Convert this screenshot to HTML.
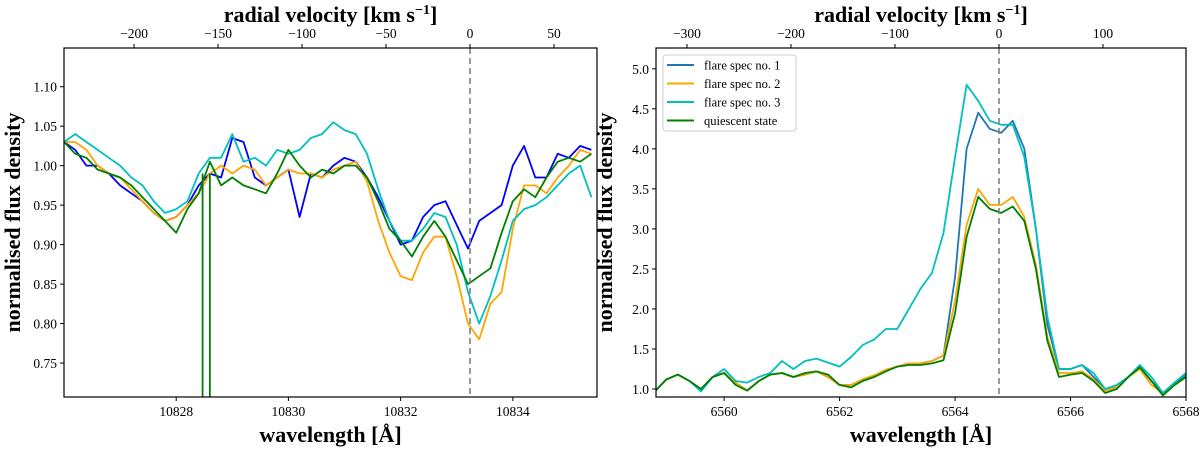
<!DOCTYPE html>
<html><head><meta charset="utf-8"><style>
html,body{margin:0;padding:0;background:#fff;}
svg{display:block;font-family:"Liberation Serif",serif;}
</style></head><body>
<svg id="fig" width="1200" height="452" viewBox="0 0 1200 452" xmlns="http://www.w3.org/2000/svg"></svg>
<script>
// ---- left panel data (He I 10830) ----
const wlL = [10826.0,10826.2,10826.4,10826.6,10826.8,10827.0,10827.2,10827.4,10827.6,10827.8,10828.0,10828.2,10828.4,10828.6,10828.8,10829.0,10829.2,10829.4,10829.6,10829.8,10830.0,10830.2,10830.4,10830.6,10830.8,10831.0,10831.2,10831.4,10831.6,10831.8,10832.0,10832.2,10832.4,10832.6,10832.8,10833.0,10833.2,10833.4,10833.6,10833.8,10834.0,10834.2,10834.4,10834.6,10834.8,10835.0,10835.2,10835.4];
const leftBlue = [1.03,1.02,1.00,1.00,0.99,0.975,0.965,0.955,0.94,0.93,0.935,0.95,0.975,0.99,0.985,1.035,1.03,0.985,0.975,0.985,0.995,0.935,0.99,0.985,1.00,1.01,1.005,0.985,0.96,0.93,0.90,0.905,0.935,0.95,0.955,0.925,0.895,0.93,0.94,0.95,1.00,1.025,0.985,0.985,1.015,1.01,1.025,1.02];
const leftOrange = [1.03,1.03,1.02,1.00,0.99,0.985,0.97,0.955,0.94,0.93,0.935,0.95,0.965,0.99,1.00,0.99,1.00,0.995,0.975,0.985,0.995,0.99,0.99,0.985,0.995,1.00,1.005,0.98,0.93,0.89,0.86,0.855,0.89,0.91,0.91,0.86,0.80,0.78,0.825,0.84,0.92,0.975,0.975,0.965,0.985,1.00,1.02,1.015];
const leftCyan = [1.03,1.04,1.03,1.02,1.01,1.00,0.985,0.975,0.955,0.94,0.945,0.955,0.99,1.01,1.01,1.04,1.005,1.01,1.00,1.02,1.015,1.02,1.035,1.04,1.055,1.045,1.04,1.015,0.97,0.93,0.905,0.905,0.92,0.94,0.935,0.90,0.84,0.80,0.835,0.88,0.93,0.945,0.95,0.96,0.975,0.99,1.00,0.96];
const leftGreen = [1.03,1.015,1.01,0.995,0.99,0.985,0.975,0.96,0.945,0.93,0.915,0.945,0.965,1.005,0.975,0.985,0.975,0.97,0.965,0.99,1.02,1.00,0.985,0.995,0.99,1.00,1.00,0.985,0.955,0.92,0.905,0.885,0.91,0.93,0.91,0.88,0.85,0.86,0.87,0.915,0.955,0.97,0.96,0.985,1.005,1.01,1.005,1.015];
const greenSpikeWl = [10828.47,10828.6];
const leftYTicks = [0.75,0.80,0.85,0.90,0.95,1.00,1.05,1.10];
const leftXTicks = [10828,10830,10832,10834];
const leftVTicks = [-200,-150,-100,-50,0,50];
// ---- right panel data (H alpha) ----
const wlR = [6558.8,6559.0,6559.2,6559.4,6559.6,6559.8,6560.0,6560.2,6560.4,6560.6,6560.8,6561.0,6561.2,6561.4,6561.6,6561.8,6562.0,6562.2,6562.4,6562.6,6562.8,6563.0,6563.2,6563.4,6563.6,6563.8,6564.0,6564.2,6564.4,6564.6,6564.8,6565.0,6565.2,6565.4,6565.6,6565.8,6566.0,6566.2,6566.4,6566.6,6566.8,6567.0,6567.2,6567.4,6567.6,6567.8,6568.0];
const flare1 = [0.97,1.12,1.18,1.10,1.00,1.15,1.20,1.08,0.98,1.10,1.18,1.20,1.15,1.18,1.22,1.15,1.05,1.05,1.12,1.17,1.24,1.28,1.32,1.32,1.35,1.42,2.40,4.00,4.45,4.25,4.20,4.35,4.00,3.00,1.80,1.25,1.25,1.30,1.15,1.00,1.02,1.15,1.28,1.10,0.95,1.05,1.18];
const flare2 = [0.97,1.12,1.18,1.10,1.00,1.15,1.20,1.08,0.98,1.10,1.18,1.20,1.15,1.18,1.22,1.15,1.05,1.05,1.12,1.17,1.24,1.28,1.32,1.32,1.35,1.42,2.10,3.05,3.50,3.30,3.30,3.40,3.15,2.55,1.65,1.20,1.20,1.22,1.12,0.98,1.02,1.15,1.25,1.05,0.95,1.05,1.15];
const flare3 = [0.97,1.12,1.18,1.10,0.97,1.15,1.25,1.10,1.08,1.15,1.20,1.35,1.25,1.35,1.38,1.33,1.28,1.40,1.55,1.62,1.75,1.75,2.00,2.25,2.45,2.95,3.90,4.80,4.60,4.35,4.30,4.30,3.90,3.00,1.90,1.25,1.25,1.30,1.20,1.00,1.05,1.15,1.30,1.15,0.95,1.08,1.20];
const quiescent = [0.97,1.12,1.18,1.10,1.00,1.15,1.20,1.05,0.98,1.10,1.18,1.20,1.15,1.20,1.22,1.18,1.05,1.02,1.10,1.15,1.22,1.28,1.30,1.30,1.32,1.36,1.95,2.90,3.40,3.25,3.20,3.28,3.10,2.50,1.60,1.15,1.18,1.20,1.10,0.95,1.00,1.15,1.27,1.10,0.92,1.05,1.15];
const rightYTicks = [1.0,1.5,2.0,2.5,3.0,3.5,4.0,4.5,5.0];
const rightXTicks = [6560,6562,6564,6566,6568];
const rightVTicks = [-300,-200,-100,0,100];
const legendLabels = ["flare spec no. 1","flare spec no. 2","flare spec no. 3","quiescent state"];

const NS="http://www.w3.org/2000/svg";
const svg=document.getElementById('fig');
function mk(tag,attrs,parent){const e=document.createElementNS(NS,tag);for(const k in attrs)e.setAttribute(k,attrs[k]);(parent||svg).appendChild(e);return e;}

function panel(o){
  const g=mk('g',{});
  
  
  const xs=v=>o.x0+(v-o.xmin)/(o.xmax-o.xmin)*(o.x1-o.x0);
  const ys=v=>o.y1-(v-o.ymin)/(o.ymax-o.ymin)*(o.y1-o.y0);
  const vs=v=>o.x0+(v-o.vmin)/(o.vmax-o.vmin)*(o.x1-o.x0);
  const clip='clip-'+o.name;
  const cp=mk('clipPath',{id:clip},g);mk('rect',{x:o.x0,y:o.y0,width:o.x1-o.x0,height:o.y1-o.y0},cp);
  const pg=mk('g',{'clip-path':'url(#'+clip+')'},g);
  o.series.forEach(s=>{
    const d=s.vals.map((v,i)=>(i?'L':'M')+xs(o.wl[i]).toFixed(1)+','+ys(v).toFixed(1)).join('');
    const p=mk('path',{d:d,fill:'none',stroke:s.color,'stroke-width':1.8,'stroke-linejoin':'round'},pg);
    
    
  });
  if(o.spikes){o.spikes.forEach(w=>{
    const l=mk('line',{x1:xs(w),x2:xs(w),y1:ys(0.99),y2:o.y1+2,stroke:'#008000','stroke-width':1.8},pg);
    
    
  });}
  const dl=mk('line',{x1:vs(0),x2:vs(0),y1:o.y0,y2:o.y1,stroke:'#808080','stroke-width':1.6,'stroke-dasharray':'6,4'},g);
  
  
  const fr=mk('rect',{x:o.x0,y:o.y0,width:o.x1-o.x0,height:o.y1-o.y0,fill:'none',stroke:'#000','stroke-width':1.2},g);
  
  
  o.yt.forEach(t=>{const y=ys(t);mk('line',{x1:o.x0-4,x2:o.x0,y1:y,y2:y,stroke:'#000'},g);
    const tx=mk('text',{x:o.x0-7,y:y+5,'text-anchor':'end','font-size':13.5},g);tx.textContent=t.toFixed(o.ydec);
    
    });
  o.xt.forEach(t=>{const x=xs(t);mk('line',{x1:x,x2:x,y1:o.y1,y2:o.y1+4,stroke:'#000'},g);
    const tx=mk('text',{x:x,y:o.y1+19,'text-anchor':'middle','font-size':13.5},g);tx.textContent=t;
    
    });
  o.vt.forEach(t=>{const x=vs(t);mk('line',{x1:x,x2:x,y1:o.y0-4,y2:o.y0,stroke:'#000'},g);
    const tx=mk('text',{x:x,y:o.y0-10,'text-anchor':'middle','font-size':13.5},g);tx.textContent=(t<0?'\u2212'+(-t):t);
    
    });
  const cx=(o.x0+o.x1)/2;
  const xl=mk('text',{x:cx,y:442,'text-anchor':'middle','font-size':22,'font-weight':'bold'},g);xl.textContent='wavelength [Å]';
  
  
  const tl=mk('text',{x:cx,y:22,'text-anchor':'middle','font-size':22,'font-weight':'bold'},g);
  tl.innerHTML='radial velocity [km s<tspan dy="-8" font-size="14">−1</tspan><tspan dy="8">]</tspan>';
  
  
  const yl=mk('text',{x:0,y:0,'text-anchor':'middle','font-size':22,'font-weight':'bold',transform:'translate('+o.ylx+','+((o.y0+o.y1)/2)+') rotate(-90)'},g);yl.textContent='normalised flux density';
  
  
  return {xs,ys};
}

panel({name:'helium-panel',x0:64,x1:597,y0:48,y1:397,xmin:10826.0,xmax:10835.5,ymin:0.707,ymax:1.149,vmin:-241.7,vmax:75.6,ydec:2,ylx:20,
  wl:wlL,yt:leftYTicks,xt:leftXTicks,vt:leftVTicks,spikes:greenSpikeWl,
  series:[{name:'left-blue-series',vals:leftBlue,color:'#0000ff'},{name:'left-orange-series',vals:leftOrange,color:'#ffa500'},
          {name:'left-cyan-series',vals:leftCyan,color:'#00bfbf'},{name:'left-green-series',vals:leftGreen,color:'#008000'}]});

panel({name:'halpha-panel',x0:656,x1:1186,y0:48,y1:397,xmin:6558.82,xmax:6568.0,ymin:0.90,ymax:5.26,vmin:-329.8,vmax:179.8,ydec:1,ylx:612,
  wl:wlR,yt:rightYTicks,xt:rightXTicks,vt:rightVTicks,
  series:[{name:'flare-1-series',vals:flare1,color:'#1f77b4'},{name:'flare-2-series',vals:flare2,color:'#ffa500'},
          {name:'flare-3-series',vals:flare3,color:'#00bfbf'},{name:'quiescent-series',vals:quiescent,color:'#008000'}]});

// legend
const lg=mk('g',{});


mk('rect',{x:663,y:55,width:133,height:76,rx:3,fill:'#fff',stroke:'#ccc','stroke-width':1},lg);
const lcols=['#1f77b4','#ffa500','#00bfbf','#008000'];
legendLabels.forEach((t,i)=>{
  const y=65+i*18.5;
  mk('line',{x1:667,x2:694,y1:y,y2:y,stroke:lcols[i],'stroke-width':2},lg);
  const tx=mk('text',{x:704,y:y+4.5,'font-size':12.5},lg);tx.textContent=t;
  
  
});
</script>
</body></html>
